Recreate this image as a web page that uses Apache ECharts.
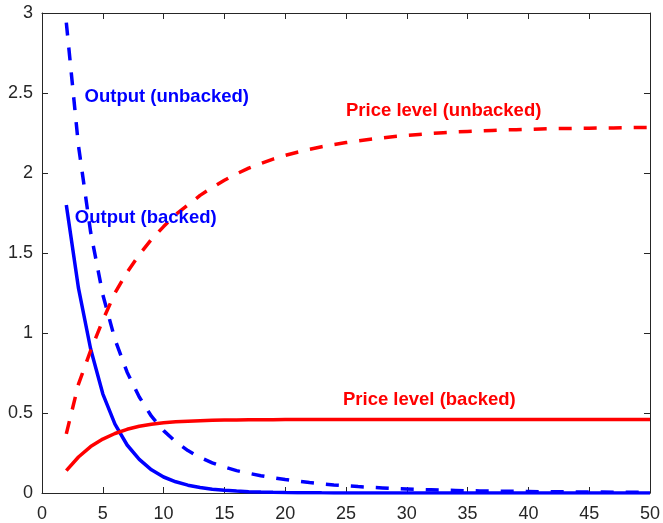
<!DOCTYPE html>
<html>
<head>
<meta charset="utf-8">
<script src="https://cdn.jsdelivr.net/npm/echarts@6/dist/echarts.min.js"></script>
<style>
html,body{margin:0;padding:0;background:#fff;}
#chart{width:663px;height:523px;}
</style>
</head>
<body>
<div id="chart"></div>
<script>
var periods = [2,3,4,5,6,7,8,9,10,11,12,13,14,15,16,17,18,19,20,21,22,23,24,25,26,27,28,29,30,31,32,33,34,35,36,37,38,39,40,41,42,43,44,45,46,47,48,49,50];

var outputUnbacked = [2.94,2.17,1.63,1.24,0.96,0.755,0.60,0.48,0.39,0.32,0.265,0.222,0.188,0.162,0.14,0.123,0.108,0.095,0.084,0.074,0.065,0.057,0.05,0.045,0.04,0.036,0.032,0.028,0.025,0.022,0.02,0.018,0.016,0.014,0.013,0.012,0.011,0.01,0.009,0.008,0.0075,0.007,0.0065,0.006,0.0055,0.005,0.0048,0.0045,0.0042];

var outputBacked = [1.80,1.28,0.90,0.62,0.43,0.30,0.21,0.145,0.10,0.07,0.049,0.034,0.024,0.017,0.012,0.0085,0.006,0.0042,0.003,0.0021,0.0015,0.001,0.0007,0.0005,0.00035,0.00025,0.00018,0.00013,0.0001,0.00007,0.00005,0.00004,0.00003,0.00002,0.00002,0.00001,0.00001,0.00001,0,0,0,0,0,0,0,0,0,0,0];

var priceUnbacked = [0.37,0.68,0.89,1.08,1.25,1.38,1.49,1.585,1.665,1.74,1.80,1.86,1.91,1.955,1.995,2.03,2.06,2.087,2.11,2.13,2.148,2.164,2.178,2.19,2.201,2.211,2.22,2.228,2.235,2.241,2.247,2.252,2.256,2.26,2.263,2.266,2.269,2.271,2.273,2.275,2.277,2.278,2.279,2.28,2.281,2.282,2.283,2.284,2.285];

var priceBacked = [0.14,0.225,0.29,0.337,0.372,0.398,0.417,0.43,0.439,0.445,0.449,0.452,0.454,0.456,0.457,0.458,0.4585,0.4585,0.459,0.459,0.459,0.459,0.459,0.459,0.459,0.459,0.459,0.459,0.459,0.459,0.459,0.459,0.459,0.459,0.459,0.459,0.459,0.459,0.459,0.459,0.459,0.459,0.459,0.459,0.459,0.459,0.459,0.459,0.459];

var annotations = [
  {text:'Output (unbacked)', x:3.5, y:2.475, color:'#0000FF'},
  {text:'Price level (unbacked)', x:25.0, y:2.39, color:'#FF0000'},
  {text:'Output (backed)', x:2.7, y:1.72, color:'#0000FF'},
  {text:'Price level (backed)', x:24.75, y:0.58, color:'#FF0000'}
];

function pairs(vals){ return periods.map(function(p,i){ return [p, vals[i]]; }); }

var FONT = '"Liberation Sans", Arial, Helvetica, sans-serif';
var AX = '#262626';

var chart = echarts.init(document.getElementById('chart'), null, {renderer:'canvas'});

function axisBase(pos, showLabel){
  return {
    position: pos,
    axisLine:{show:true, onZero:false, lineStyle:{color:AX, width:1}},
    axisTick:{show:true, inside:true, length:6, lineStyle:{color:AX, width:1}},
    splitLine:{show:false},
    axisLabel:{show:showLabel, color:AX, fontSize:18, fontFamily:FONT}
  };
}

var xa0 = axisBase('bottom', true); xa0.type='value'; xa0.min=0; xa0.max=50; xa0.interval=5; xa0.axisLabel.margin=12;
var xa1 = axisBase('top', false); xa1.type='value'; xa1.min=0; xa1.max=50; xa1.interval=5;
var ya0 = axisBase('left', true); ya0.type='value'; ya0.min=0; ya0.max=3; ya0.interval=0.5; ya0.axisLabel.margin=9;
var ya1 = axisBase('right', false); ya1.type='value'; ya1.min=0; ya1.max=3; ya1.interval=0.5;

function lineSeries(name, vals, color, dashed){
  return {
    name:name, type:'line', data:pairs(vals), xAxisIndex:0, yAxisIndex:0,
    showSymbol:false, symbol:'none', smooth:false, animation:false,
    lineStyle:{color:color, width:3.5, type: dashed ? [13,12] : 'solid', cap:'butt'}
  };
}

chart.setOption({
  animation:false,
  backgroundColor:'#ffffff',
  grid:{left:42, right:13, top:13, bottom:30, containLabel:false},
  xAxis:[xa0, xa1],
  yAxis:[ya0, ya1],
  series:[
    lineSeries('Output (backed)', outputBacked, '#0000FF', false),
    lineSeries('Output (unbacked)', outputUnbacked, '#0000FF', true),
    lineSeries('Price level (backed)', priceBacked, '#FF0000', false),
    lineSeries('Price level (unbacked)', priceUnbacked, '#FF0000', true)
  ]
});

var g = annotations.map(function(a){
  var p = chart.convertToPixel({xAxisIndex:0, yAxisIndex:0}, [a.x, a.y]);
  return {
    type:'text', x:p[0], y:p[1], z:100,
    style:{text:a.text, fill:a.color, font:'bold 18.5px ' + FONT, textAlign:'left', textVerticalAlign:'middle'}
  };
});
chart.setOption({graphic:g});
</script>
</body>
</html>
